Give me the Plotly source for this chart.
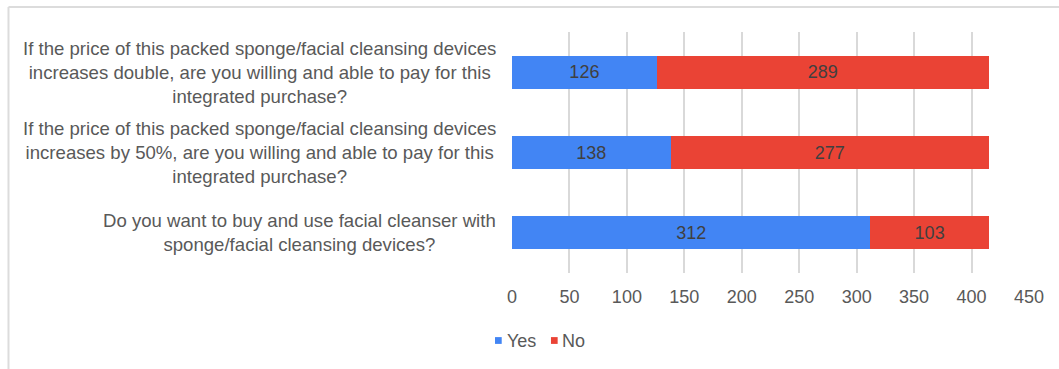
import plotly.graph_objects as go

# Survey questions (top to bottom) and answer counts
questions = [
    "If the price of this packed sponge/facial cleansing devices<br>increases double, are you willing and able to pay for this<br>integrated purchase?",
    "If the price of this packed sponge/facial cleansing devices<br>increases by 50%, are you willing and able to pay for this<br>integrated purchase?",
    "Do you want to buy and use facial cleanser with<br>sponge/facial cleansing devices?",
]
yes_counts = [126, 138, 312]
no_counts = [289, 277, 103]
x_ticks = [0, 50, 100, 150, 200, 250, 300, 350, 400, 450]

YES_COLOR = "#4285F4"
NO_COLOR = "#EA4335"
TEXT_COLOR = "#595959"
LABEL_COLOR = "#404040"
GRID_COLOR = "#D9D9D9"
FONT = "Liberation Sans, Arial, sans-serif"

cat_ids = ["q1", "q2", "q3"]

fig = go.Figure()
for name, vals, color in [("Yes", yes_counts, YES_COLOR), ("No", no_counts, NO_COLOR)]:
    fig.add_trace(go.Bar(
        y=cat_ids, x=vals, name=name, orientation="h",
        marker=dict(color=color, line=dict(width=0)),
        text=vals, texttemplate="%{text}", textposition="inside",
        insidetextanchor="middle",
        textfont=dict(family=FONT, size=18, color=LABEL_COLOR),
        showlegend=False,
    ))

# Category labels: centered multi-line blocks right-aligned against the plot
for cid, q in zip(cat_ids, questions):
    fig.add_annotation(
        x=0, xref="paper", y=cid, yref="y",
        text=q, showarrow=False, xanchor="right", yanchor="middle",
        align="center", xshift=-14,
        font=dict(family=FONT, size=18.6, color=TEXT_COLOR),
    )

# Legend drawn as small squares with labels below the axis
legend_items = [("Yes", YES_COLOR, 495), ("No", NO_COLOR, 551)]
W, H = 1059, 369
L, R, T, B = 512, 29.5, 32, 96
pw, ph = W - L - R, H - T - B
for label, color, px in legend_items:
    x0 = (px - L) / pw
    x1 = (px + 6.7 - L) / pw
    yc = (H - B - 340.5) / ph
    fig.add_shape(type="rect", xref="paper", yref="paper",
                  x0=x0, x1=x1, y0=yc - 3.4 / ph, y1=yc + 3.4 / ph,
                  fillcolor=color, line=dict(width=0))
    fig.add_annotation(x=(px + 9.5 - L) / pw, xref="paper", y=yc, yref="paper",
                       text=label, showarrow=False, xanchor="left", yanchor="middle",
                       font=dict(family=FONT, size=18, color=TEXT_COLOR))

# Outer frame (top and left edges)
fig.add_shape(type="line", xref="paper", yref="paper",
              x0=(8 - L) / pw, x1=(W + 5 - L) / pw, y0=(H - B - 7) / ph, y1=(H - B - 7) / ph,
              line=dict(color="#DCDCDC", width=2))
fig.add_shape(type="line", xref="paper", yref="paper",
              x0=(8 - L) / pw, x1=(8 - L) / pw, y0=(H - B - 7) / ph, y1=(H - B - 375) / ph,
              line=dict(color="#DCDCDC", width=2))

fig.update_layout(
    width=W, height=H, barmode="stack", bargap=0.59,
    margin=dict(l=L, r=R, t=T, b=B, pad=0),
    plot_bgcolor="white", paper_bgcolor="white",
    font=dict(family=FONT, color=TEXT_COLOR),
    xaxis=dict(range=[0, 450], tickvals=x_ticks, showgrid=True, gridcolor=GRID_COLOR,
               gridwidth=2, zeroline=False, showline=False, ticks="",
               tickfont=dict(family=FONT, size=18, color=TEXT_COLOR),
               ticklabelstandoff=11, fixedrange=True),
    yaxis=dict(categoryorder="array", categoryarray=cat_ids, autorange="reversed",
               showticklabels=False, showgrid=False, zeroline=False, showline=False,
               ticks="", fixedrange=True),
)

fig.write_html("out.html")
